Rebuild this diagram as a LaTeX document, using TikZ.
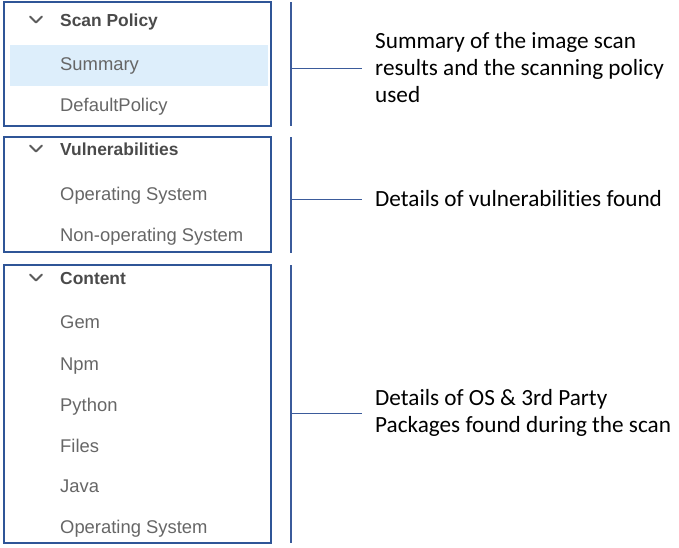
\documentclass[tikz,border=0pt]{standalone}
\usepackage{fontspec}
\setmainfont{Liberation Sans}
\newfontfamily\callout[Ligatures=NoCommon]{Carlito}
\definecolor{boxblue}{HTML}{2F5597}
\definecolor{lineblue}{HTML}{3B5B9B}
\definecolor{hilite}{HTML}{DDEEFB}
\definecolor{headgray}{HTML}{4A4A4A}
\definecolor{itemgray}{HTML}{666666}
\begin{document}
\begin{tikzpicture}[x=1pt,y=-1pt,
  menubox/.style={draw=boxblue,line width=1.8pt,minimum width=267pt,inner sep=0pt},
  header/.style={anchor=base west,inner sep=0pt,text=headgray,font=\fontsize{17.4}{20}\selectfont\bfseries},
  item/.style={anchor=base west,inner sep=0pt,text=itemgray,font=\fontsize{18.4}{21}\selectfont},
  chevron/.style={draw=headgray!90,line width=1.8pt,line cap=round,line join=round},
  bracket/.style={draw=lineblue,line width=1.5pt},
  tick/.style={draw=lineblue,line width=1pt},
  note/.style={anchor=west,inner xsep=13pt,inner ysep=0pt,align=left,text=black,font=\callout\fontsize{23.2}{27}\selectfont}]
\useasboundingbox (0,0) rectangle (679,547);
% highlight
\fill[hilite] (10,45) rectangle (268,86);
% boxes
\node[menubox,minimum height=124pt] (box1) at (137.5,64) {};
\node[menubox,minimum height=115pt] (box2) at (137.5,194.5) {};
\node[menubox,minimum height=278pt] (box3) at (137.5,404) {};
% chevrons
\draw[chevron] (30,16.5) -- (36,22.5) -- (42,16.5);
\draw[chevron] (30,145.5) -- (36,151.5) -- (42,145.5);
\draw[chevron] (30,274.5) -- (36,280.5) -- (42,274.5);
% menu texts
\node[header] (h1) at (60,26) {Scan Policy};
\node[item] (i11) at (60,70) {Summary};
\node[item] (i12) at (60,111) {DefaultPolicy};
\node[header] (h2) at (60,155) {Vulnerabilities};
\node[item] (i21) at (60,200) {Operating System};
\node[item] (i22) at (60,241) {Non-operating System};
\node[header] (h3) at (60,284) {Content};
\node[item] (i31) at (60,328) {Gem};
\node[item] (i32) at (60,370) {Npm};
\node[item] (i33) at (60,411) {Python};
\node[item] (i34) at (60,452) {Files};
\node[item] (i35) at (60,492) {Java};
\node[item] (i36) at (60,533) {Operating System};
% brackets
\coordinate (b1t) at (291,2);   \coordinate (b1b) at (291,126); \coordinate (b1m) at (291,68);
\coordinate (b2t) at (291,137); \coordinate (b2b) at (291,253); \coordinate (b2m) at (291,199);
\coordinate (b3t) at (291,265); \coordinate (b3b) at (291,543); \coordinate (b3m) at (291,413);
\draw[bracket] (b1t) -- (b1b);
\draw[bracket] (b2t) -- (b2b);
\draw[bracket] (b3t) -- (b3b);
% notes
\node[note] (n1) at (362,68) {Summary of the image scan\\results and the scanning policy\\used};
\node[note] (n2) at (362,199) {Details of vulnerabilities found};
\node[note] (n3) at (362,413) {Details of OS \& 3rd Party\\Packages found during the scan};
\draw[tick] (b1m) -- (n1.west);
\draw[tick] (b2m) -- (n2.west);
\draw[tick] (b3m) -- (n3.west);
\end{tikzpicture}
\end{document}
